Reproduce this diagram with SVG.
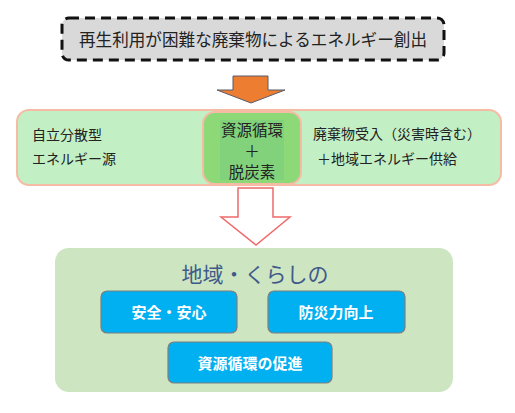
<svg xmlns="http://www.w3.org/2000/svg" width="515" height="413" viewBox="0 0 515 413">
<style>
text{font-family:"Noto Sans CJK JP","Noto Sans",sans-serif;}
.blk{fill:#222;font-size:14px;}
.core{fill:#222;font-size:15.5px;text-anchor:middle;}
.cap{fill:#fff;font-size:15px;font-weight:bold;text-anchor:middle;}
.blue{fill:#00b0f0;stroke:#7f7f7f;stroke-width:1.2;}
</style>
<rect width="515" height="413" fill="#fff"/>
<g id="source">
<rect x="62" y="18" width="382" height="42" rx="7" fill="#d9d9d9" stroke="#111" stroke-width="3" stroke-dasharray="10,6"/>
<text x="253" y="46" text-anchor="middle" style="font-size:16.6px;fill:#222">再生利用が困難な廃棄物によるエネルギー創出</text>
</g>
<g id="connectors">
<polygon points="233,76 268,76 268,90 285,90 251,103 217,90 233,90" fill="#ed7d31" stroke="#5a5a6a" stroke-width="1"/>
<polygon points="238,188 273,188 273,217 290,217 256,245 221,217 238,217" fill="#fff" stroke="#f06a6a" stroke-width="1.5"/>
</g>
<g id="middle">
<rect x="17" y="110" width="484" height="75" rx="12" fill="#c3efc5" stroke="#f6bba4" stroke-width="2"/>
<text x="32" y="140" class="blk">自立分散型</text>
<text x="32" y="164" class="blk">エネルギー源</text>
<text x="313" y="139" class="blk">廃棄物受入（災害時含む）</text>
<text x="317" y="164" class="blk">＋地域エネルギー供給</text>
</g>
<g id="core">
<rect x="203" y="112" width="98" height="72" rx="12" fill="#8dd978" stroke="#f6bba4" stroke-width="2"/>
<rect x="220" y="120" width="64" height="60" fill="#82d27c"/>
<text x="252" y="136" class="core">資源循環</text>
<text x="252" y="157" class="core">＋</text>
<text x="252" y="178" class="core">脱炭素</text>
</g>
<g id="region">
<rect x="55" y="248" width="398" height="144" rx="14" fill="#cde5c1"/>
<text x="255" y="282" text-anchor="middle" style="font-size:21px;fill:#3f5a8a">地域・くらしの</text>
</g>
<g id="safety">
<rect x="101" y="291" width="136" height="42" rx="6" class="blue"/>
<text x="169" y="318" class="cap">安全・安心</text>
</g>
<g id="disaster">
<rect x="268" y="291" width="137" height="42" rx="6" class="blue"/>
<text x="336" y="318" class="cap">防災力向上</text>
</g>
<g id="circulation">
<rect x="168" y="342" width="164" height="41" rx="6" class="blue"/>
<text x="250" y="369" class="cap">資源循環の促進</text>
</g>
</svg>
